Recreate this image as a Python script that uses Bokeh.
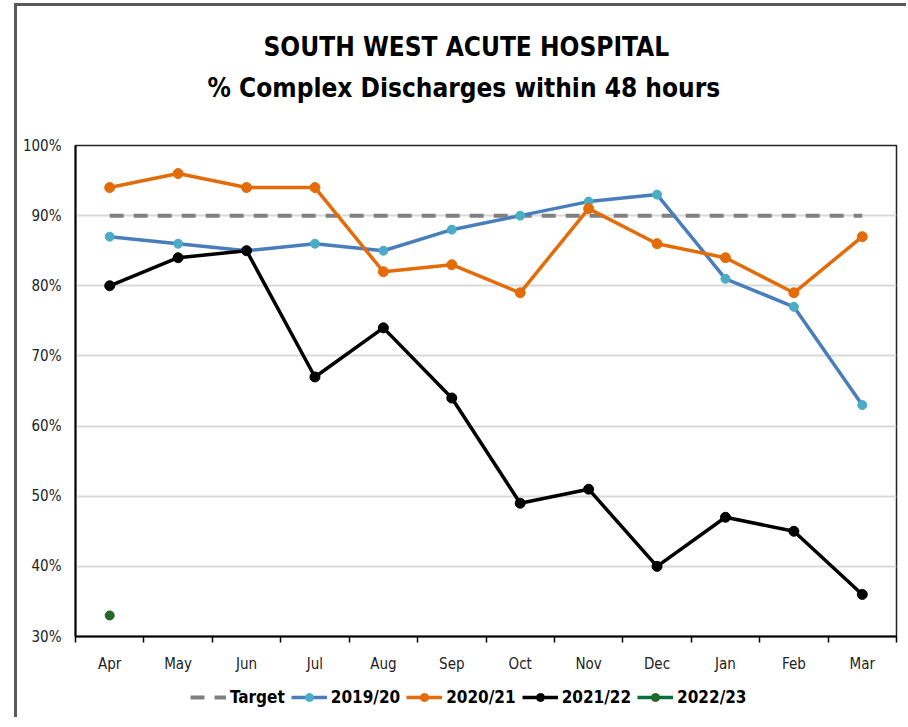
import numpy as np
from bokeh.plotting import figure
from bokeh.layouts import column
from bokeh.models import (ColumnDataSource, FixedTicker, NumeralTickFormatter, Legend,
                          LegendItem, Title, Range1d)
from bokeh.embed import file_html
from bokeh.resources import INLINE

# ---- data ----
months = ["Apr", "May", "Jun", "Jul", "Aug", "Sep", "Oct", "Nov", "Dec", "Jan", "Feb", "Mar"]
target = [90, 90, 90, 90, 90, 90, 90, 90, 90, 90, 90, 90]
fy1920 = [87, 86, 85, 86, 85, 88, 90, 92, 93, 81, 77, 63]
fy2021 = [94, 96, 94, 94, 82, 83, 79, 91, 86, 84, 79, 87]
fy2122 = [80, 84, 85, 67, 74, 64, 49, 51, 40, 47, 45, 36]
fy2223 = [33]
y_ticks = [30, 40, 50, 60, 70, 80, 90, 100]
series_names = ["Target", "2019/20", "2020/21", "2021/22", "2022/23"]

FONT = "'DejaVu Sans Condensed', 'Liberation Sans', sans-serif"

xpos = np.arange(len(months)) + 0.5


def src(vals):
    return ColumnDataSource(dict(x=xpos[:len(vals)], y=np.array(vals) / 100.0))


p = figure(frame_width=821, frame_height=491, output_backend="svg", toolbar_location=None,
           x_range=Range1d(0, len(months)), y_range=Range1d(y_ticks[0] / 100, y_ticks[-1] / 100),
           min_border_left=58, min_border_right=10, min_border_top=139, min_border_bottom=41,
           background_fill_color="white", border_fill_color="white")

p.outline_line_color = "#222222"
p.outline_line_width = 1.5

# titles (spacer closest to the frame, then line 2, then line 1)
spacer = Title(text=" ", text_font_size="1px", standoff=40)
t2 = Title(text="% Complex Discharges within 48 hours", align="left", offset=132,
           text_font=FONT, text_font_size="26px", text_font_style="bold",
           text_color="black", standoff=0)
t1 = Title(text="SOUTH WEST ACUTE HOSPITAL", align="left", offset=188,
           text_font=FONT, text_font_size="26px", text_font_style="bold",
           text_color="black", standoff=18)
p.add_layout(spacer, "above")
p.add_layout(t2, "above")
p.add_layout(t1, "above")

# axes
p.xaxis.ticker = FixedTicker(ticks=list(xpos), minor_ticks=list(range(len(months) + 1)))
p.xaxis.major_label_overrides = {float(x): m for x, m in zip(xpos, months)}
p.xaxis.major_tick_out = 0
p.xaxis.major_tick_in = 0
p.xaxis.major_tick_line_color = None
p.xaxis.minor_tick_out = 6
p.xaxis.minor_tick_in = 0
p.xaxis.minor_tick_line_color = "black"
p.xaxis.minor_tick_line_width = 1.5
p.xaxis.axis_line_color = "black"
p.xaxis.axis_line_width = 2
p.xaxis.major_label_standoff = 12
p.xaxis.major_label_text_font = FONT
p.xaxis.major_label_text_font_size = "15px"
p.xaxis.major_label_text_color = "#222222"

p.yaxis.ticker = FixedTicker(ticks=[t / 100 for t in y_ticks])
p.yaxis.formatter = NumeralTickFormatter(format="0%")
p.yaxis.major_tick_line_color = None
p.yaxis.minor_tick_line_color = None
p.yaxis.major_tick_out = 0
p.yaxis.axis_line_color = "black"
p.yaxis.axis_line_width = 2
p.yaxis.major_label_standoff = 14
p.yaxis.major_label_text_font = FONT
p.yaxis.major_label_text_font_size = "15px"
p.yaxis.major_label_text_color = "#222222"

p.xgrid.grid_line_color = None
p.ygrid.ticker = FixedTicker(ticks=[t / 100 for t in y_ticks])
p.ygrid.grid_line_color = "#d9d9d9"
p.ygrid.grid_line_width = 2

# styles for each series
STYLES = [
    dict(line_color="#808080", line_width=4, line_dash="14 10"),
    dict(line_color="#4a7ebb", line_width=3.5),
    dict(line_color="#e36c09", line_width=3.5),
    dict(line_color="black", line_width=3.5),
    dict(line_color="#00703c", line_width=3.5),
]
MARKERS = [
    None,
    dict(size=9, fill_color="#4bacc6", line_color="#4bacc6"),
    dict(size=10, fill_color="#e36c09", line_color="#e36c09"),
    dict(size=10, fill_color="black", line_color="black"),
    dict(size=9, fill_color="#1e6b2e", line_color="#2d5a1e"),
]

sources = []
for vals, st, mk in zip([target, fy1920, fy2021, fy2122, fy2223], STYLES, MARKERS):
    s = src(vals)
    sources.append(s)
    p.line("x", "y", source=s, **st)
    if mk:
        p.scatter("x", "y", source=s, **mk)

# ---- legend strip below the chart (its own glyphs lie outside its visible range) ----
pl = figure(width=889, height=40, output_backend="svg", toolbar_location=None,
            x_range=Range1d(0, len(months)), y_range=Range1d(-10, -9),
            min_border_left=0, min_border_right=0, min_border_top=0, min_border_bottom=0,
            outline_line_color=None, background_fill_color="white", border_fill_color="white")
pl.axis.visible = False
pl.grid.visible = False
items = []
for name, s, st, mk in zip(series_names, sources, STYLES, MARKERS):
    rs = [pl.line("x", "y", source=s, **st)]
    if mk:
        rs.append(pl.scatter("x", "y", source=s, **mk))
    items.append(LegendItem(label=name, renderers=rs))

legend = Legend(items=items, orientation="horizontal", location=(115, 10), label_text_font=FONT,
                label_text_font_style="bold", label_text_font_size="17px", label_text_color="black",
                glyph_width=36, glyph_height=20, label_height=20, label_standoff=4, spacing=6,
                border_line_color=None, background_fill_alpha=0, padding=0, margin=0)
pl.add_layout(legend, "center")

layout = column(p, pl, spacing=0,
                styles={"margin-left": "14px", "margin-top": "3px",
                        "border-left": "3px solid #595959", "border-top": "3px solid #595959"})

open("out.html", "w").write(file_html(layout, INLINE))
